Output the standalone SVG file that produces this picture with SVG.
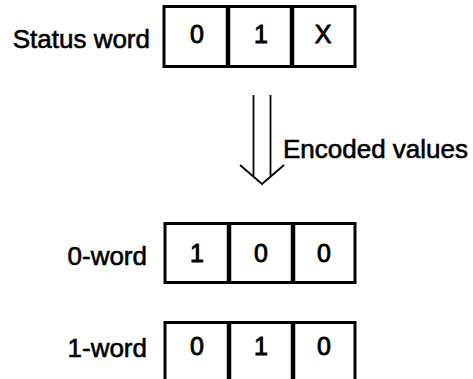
<svg xmlns="http://www.w3.org/2000/svg" width="473" height="379" viewBox="0 0 473 379">
  <style>
    .lbl { font-family: "Liberation Sans", Arial, sans-serif; font-size: 26px; fill: #000; stroke: #000; stroke-width: 0.6; }
    .bit { font-family: "Liberation Sans", Arial, sans-serif; font-size: 25px; fill: #000; stroke: #000; stroke-width: 0.9; text-anchor: middle; }
    .frame { fill: #fff; stroke: #000; stroke-width: 3; }
    .div { stroke: #000; stroke-width: 4.5; }
    .arrow { fill: none; stroke: #000; stroke-width: 1.8; }
  </style>

  <!-- Status word register -->
  <g id="status-word">
    <text class="lbl" x="150" y="48" text-anchor="end">Status word</text>
    <rect class="frame" x="164" y="6.5" width="191" height="60"/>
    <line class="div" x1="228" y1="6" x2="228" y2="67"/>
    <line class="div" x1="292" y1="6" x2="292" y2="67"/>
    <text class="bit" x="197" y="43">0</text>
    <text class="bit" x="261" y="43">1</text>
    <text class="bit" x="323" y="43">X</text>
  </g>

  <!-- Encoding arrow -->
  <g id="connectors">
    <line class="arrow" x1="253.5" y1="95" x2="253.5" y2="177"/>
    <line class="arrow" x1="270.5" y1="95" x2="270.5" y2="177"/>
    <polyline class="arrow" points="240,165 262,184 284,165"/>
    <text class="lbl" x="283" y="158">Encoded values</text>
  </g>

  <!-- 0-word register -->
  <g id="zero-word">
    <text class="lbl" x="147" y="265" text-anchor="end">0-word</text>
    <rect class="frame" x="165" y="223.5" width="190" height="59"/>
    <line class="div" x1="229" y1="223" x2="229" y2="283"/>
    <line class="div" x1="293" y1="223" x2="293" y2="283"/>
    <text class="bit" x="197" y="262">1</text>
    <text class="bit" x="261" y="262">0</text>
    <text class="bit" x="324" y="262">0</text>
  </g>

  <!-- 1-word register -->
  <g id="one-word">
    <text class="lbl" x="147" y="357" text-anchor="end">1-word</text>
    <rect class="frame" x="165" y="322.5" width="190" height="60"/>
    <line class="div" x1="229" y1="322" x2="229" y2="383"/>
    <line class="div" x1="293" y1="322" x2="293" y2="383"/>
    <text class="bit" x="197" y="355">0</text>
    <text class="bit" x="261" y="355">1</text>
    <text class="bit" x="324" y="355">0</text>
  </g>
</svg>
